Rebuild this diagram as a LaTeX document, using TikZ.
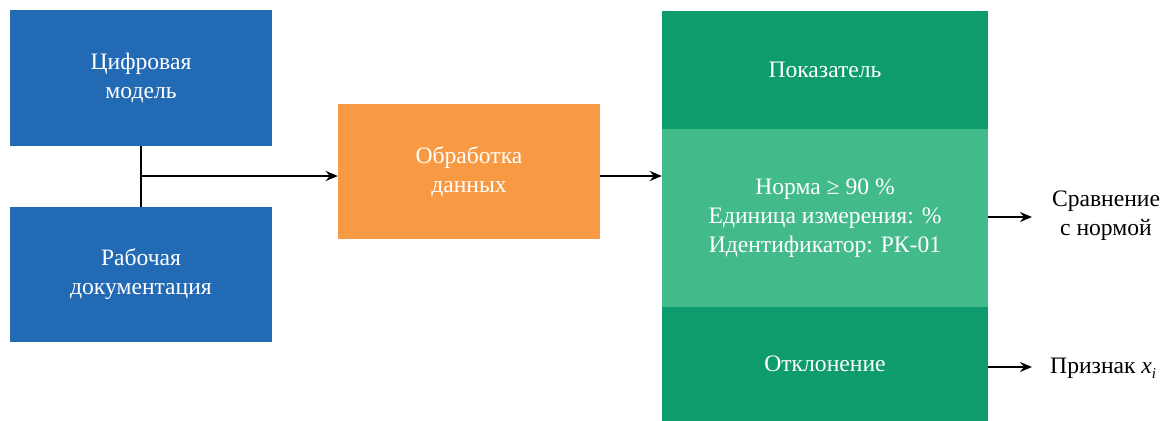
\documentclass[tikz,border=0pt]{standalone}
\usepackage{fontspec}
\setmainfont{Liberation Serif}
\usetikzlibrary{arrows.meta}
\definecolor{cblue}{RGB}{35,106,180}
\definecolor{corange}{RGB}{247,154,67}
\definecolor{cdgreen}{RGB}{14,156,110}
\definecolor{clgreen}{RGB}{66,186,138}
\begin{document}
\begin{tikzpicture}[x=1pt,y=-1pt,
  box/.style={draw=none,inner sep=0pt,text=white,align=center,
    font=\rmfamily\fontsize{23.6}{29}\selectfont},
  lbl/.style={inner sep=0pt,align=center,text=black,
    font=\rmfamily\fontsize{23.6}{29}\selectfont},
  conn/.style={line width=1.8pt,black},
  arr/.style={conn,-{Stealth[length=12pt,width=10pt]}}]
\useasboundingbox (0,0) rectangle (1161,420);
\fill[white] (0,0) rectangle (1161,420);
% left boxes
\node[box,fill=cblue,minimum width=262pt,minimum height=135pt] (dm) at (141,78) {Цифровая\\модель};
\node[box,fill=cblue,minimum width=262pt,minimum height=135pt] (doc) at (141,274.5) {Рабочая\\документация};
% processing
\node[box,fill=corange,minimum width=262pt,minimum height=135pt] (proc) at (469,171.5) {Обработка\\данных};
% green column
\node[box,fill=cdgreen,minimum width=326pt,minimum height=118pt] (ind) at (825,70) {Показатель};
\node[box,fill=clgreen,minimum width=326pt,minimum height=178pt] (norm) at (825,218) {Норма ≥ 90 \%\\Единица измерения: \%\\Идентификатор: РК-01};
\node[box,fill=cdgreen,minimum width=326pt,minimum height=114pt] (dev) at (825,364) {Отклонение};
% right labels
\node[lbl] (cmp) at (1106,216) {Сравнение\\с нормой};
\node[lbl,anchor=west] (sign) at (1050,368) {Признак \textit{x}\raisebox{-5pt}{\fontsize{15}{15}\selectfont\textit{i}}};
% connectors
\coordinate (j) at (142,176);
\draw[conn] (dm.south) -- (doc.north);
\draw[arr] (j) -- (j -| proc.west);
\draw[arr] (proc.east |- j) -- (j -| norm.west);
\coordinate (c1) at (1032,217);
\coordinate (c2) at (1032,367);
\draw[arr] (c1 -| norm.east) -- (c1);
\draw[arr] (c2 -| dev.east) -- (c2);
\end{tikzpicture}
\end{document}
